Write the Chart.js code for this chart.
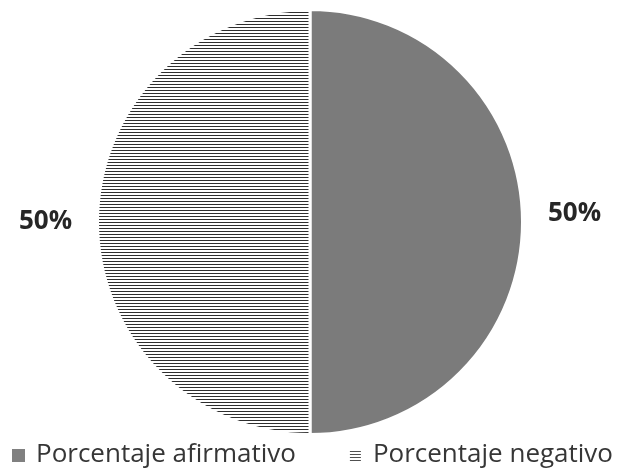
<!DOCTYPE html>
<html>
<head>
<meta charset="utf-8">
<script src="https://cdn.jsdelivr.net/npm/chart.js@4.4.0/dist/chart.umd.min.js"></script>
<style>
  html, body { margin: 0; padding: 0; background: #fff; }
  #wrap { width: 625px; height: 469px; }
</style>
</head>
<body>
<div id="wrap"><canvas id="pieChart"></canvas></div>
<script>
// chart data
const categories = ['Porcentaje afirmativo', 'Porcentaje negativo'];
const percentValues = [50, 50];
const valueLabels = ['50%', '50%'];

// horizontal stripes for the "negativo" slice
function makeStripes() {
    const c = document.createElement('canvas');
    c.width = 4;
    c.height = 3;
    const ctx = c.getContext('2d');
    ctx.fillStyle = '#ffffff';
    ctx.fillRect(0, 0, 4, 3);
    ctx.fillStyle = '#2e2e2e';
    ctx.fillRect(0, 0, 4, 1);
    return ctx.createPattern(c, 'repeat');
}
const stripes = makeStripes();
const sliceColors = ['#7b7b7b', stripes];

// percentage labels outside each slice
const outsideLabels = {
    id: 'outsideLabels',
    afterDatasetsDraw(chart) {
        const ctx = chart.ctx;
        const meta = chart.getDatasetMeta(0);
        ctx.save();
        ctx.font = 'bold 26px "Open Sans"';
        ctx.fillStyle = '#262626';
        ctx.textAlign = 'center';
        ctx.textBaseline = 'middle';
        meta.data.forEach((arc, i) => {
            const mid = (arc.startAngle + arc.endAngle) / 2;
            const r = arc.outerRadius + 52;
            const x = arc.x + Math.cos(mid) * r;
            const y = arc.y + Math.sin(mid) * r + (i === 0 ? -8 : 0);
            ctx.fillText(valueLabels[i], x, y);
        });
        ctx.restore();
    }
};

// legend row along the bottom edge
const bottomLegend = {
    id: 'bottomLegend',
    afterDraw(chart) {
        const ctx = chart.ctx;
        const box = 13, boxGap = 11, itemGap = 53;
        ctx.save();
        ctx.font = '500 26px "Open Sans"';
        const widths = categories.map(t => ctx.measureText(t).width);
        let total = widths.reduce((a, w) => a + w + box + boxGap, 0) + itemGap * (categories.length - 1);
        let x = (chart.width - total) / 2;
        const cy = 455;
        categories.forEach((label, i) => {
            if (i === 0) {
                ctx.fillStyle = '#808080';
                ctx.fillRect(x, cy - 6, box, box);
            } else {
                ctx.fillStyle = '#505050';
                for (let k = 0; k < 4; k++) {
                    ctx.fillRect(x + 1, cy - 4 + k * 3, box - 2, 1);
                }
            }
            ctx.fillStyle = '#363636';
            ctx.textAlign = 'left';
            ctx.textBaseline = 'alphabetic';
            ctx.fillText(label, x + box + boxGap, cy + 7);
            x += box + boxGap + widths[i] + itemGap;
        });
        ctx.restore();
    }
};

new Chart(document.getElementById('pieChart'), {
    type: 'pie',
    data: {
        labels: categories,
        datasets: [{
            data: percentValues,
            backgroundColor: sliceColors,
            borderColor: '#ffffff',
            borderWidth: 3
        }]
    },
    options: {
        responsive: true,
        maintainAspectRatio: false,
        animation: false,
        layout: { padding: { top: 8, bottom: 33, left: 0, right: 5 } },
        plugins: {
            tooltip: { enabled: false },
            legend: { display: false }
        }
    },
    plugins: [outsideLabels, bottomLegend]
});
</script>
</body>
</html>
